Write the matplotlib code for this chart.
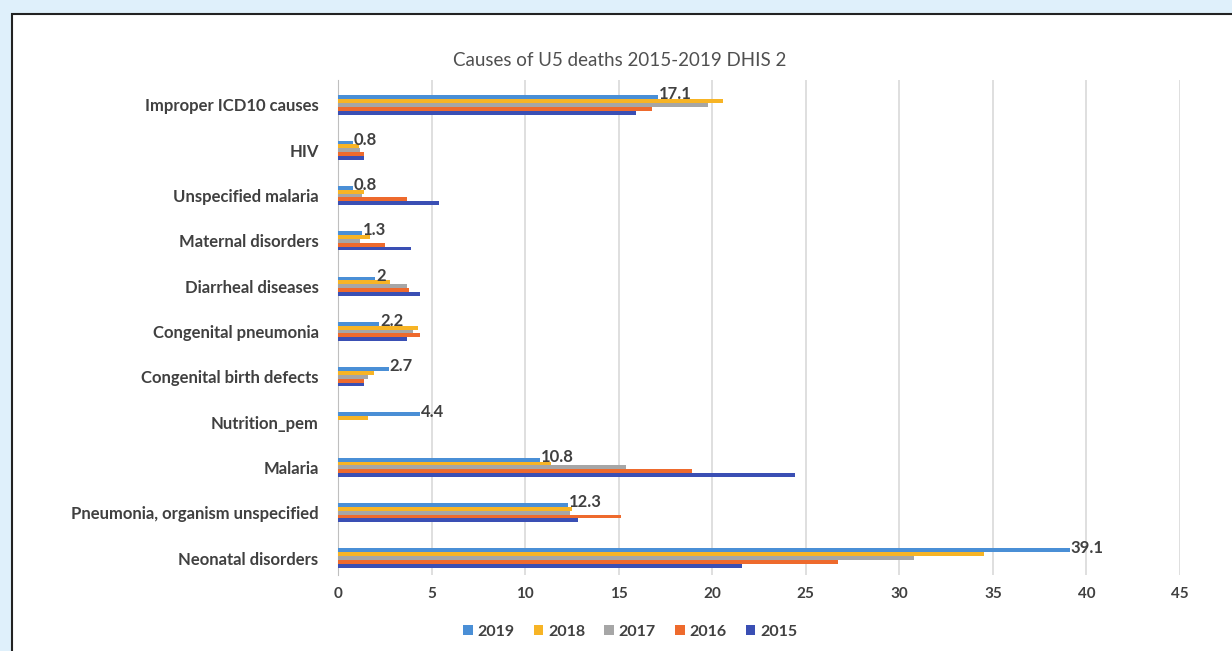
import matplotlib
matplotlib.use("Agg")
import matplotlib.pyplot as plt
import numpy as np
from matplotlib.patches import Rectangle

categories = [
    "Neonatal disorders",
    "Pneumonia, organism unspecified",
    "Malaria",
    "Nutrition_pem",
    "Congenital birth defects",
    "Congenital pneumonia",
    "Diarrheal diseases",
    "Maternal disorders",
    "Unspecified malaria",
    "HIV",
    "Improper ICD10 causes",
]

years = ["2019", "2018", "2017", "2016", "2015"]

v2019 = [39.1, 12.3, 10.8, 4.4, 2.7, 2.2, 2, 1.3, 0.8, 0.8, 17.1]
v2018 = [34.5, 12.5, 11.4, 1.6, 1.9, 4.3, 2.8, 1.7, 1.4, 1.1, 20.6]
v2017 = [30.8, 12.4, 15.4, 0, 1.6, 4.0, 3.7, 1.2, 1.3, 1.2, 19.8]
v2016 = [26.7, 15.1, 18.9, 0, 1.4, 4.4, 3.8, 2.5, 3.7, 1.4, 16.8]
v2015 = [21.6, 12.8, 24.4, 0, 1.4, 3.7, 4.4, 3.9, 5.4, 1.4, 15.9]

series = [v2019, v2018, v2017, v2016, v2015]
colors = ["#4a8fd6", "#f7b425", "#a6a6a6", "#ee6a2d", "#3a4fb4"]

fig = plt.figure(figsize=(12.32, 6.51), dpi=100)
fig.patch.set_facecolor("#dff0fb")

# white card with dark border behind everything
card = Rectangle((12 / 1232, -0.05), 1.1, 1 - 14 / 651 + 0.05,
                 transform=fig.transFigure, facecolor="white",
                 edgecolor="#222222", linewidth=1.5, zorder=-10)
fig.patches.append(card)

ax = fig.add_axes([338 / 1232, 1 - 575 / 651, 842 / 1232, 495 / 651])
ax.set_zorder(1)
ax.set_facecolor("none")

y = np.arange(len(categories))
h = 0.085
for i, (vals, col, yr) in enumerate(zip(series, colors, years)):
    offs = (2 - i) * h
    ax.barh(y + offs, vals, height=h, color=col, label=yr, zorder=3)

# value labels for the latest year
for yi, v in zip(y, v2019):
    ax.text(v + 0.05, yi + 2 * h + 0.06, f"{v:g}", ha="left", va="center",
            fontsize=12, fontweight="bold", color="#404040",
            family="Lato", zorder=4)

ax.set_xlim(0, 45)
ax.set_ylim(-0.375, 10.55)
ax.set_xticks(np.arange(0, 46, 5))
ax.set_yticks(y)
ax.set_yticklabels(categories)
ax.grid(axis="x", color="#d9d9d9", linewidth=1.2, zorder=0)
ax.set_axisbelow(True)
for s in ["top", "right", "bottom"]:
    ax.spines[s].set_visible(False)
ax.spines["left"].set_color("#bfbfbf")
ax.tick_params(axis="both", length=0, colors="#404040")
ax.tick_params(axis="y", pad=14, labelsize=12)
ax.tick_params(axis="x", pad=9, labelsize=11)
for lab in ax.get_xticklabels() + ax.get_yticklabels():
    lab.set_family("Lato")
    lab.set_fontweight("bold")

fig.text(620 / 1232, 1 - 60 / 651, "Causes of U5 deaths 2015-2019 DHIS 2",
         ha="center", va="center", fontsize=13.5, color="#505050", family="Lato")

leg = fig.legend(loc="center", bbox_to_anchor=(630 / 1232, 1 - 632 / 651),
                 ncol=5, frameon=False, handlelength=0.6,
                 handleheight=0.6, handletextpad=0.3, columnspacing=1.2,
                 prop={"family": "Lato", "weight": "bold", "size": 11.5})
for t in leg.get_texts():
    t.set_color("#404040")

fig.savefig("out.png", dpi=100, facecolor=fig.get_facecolor())
